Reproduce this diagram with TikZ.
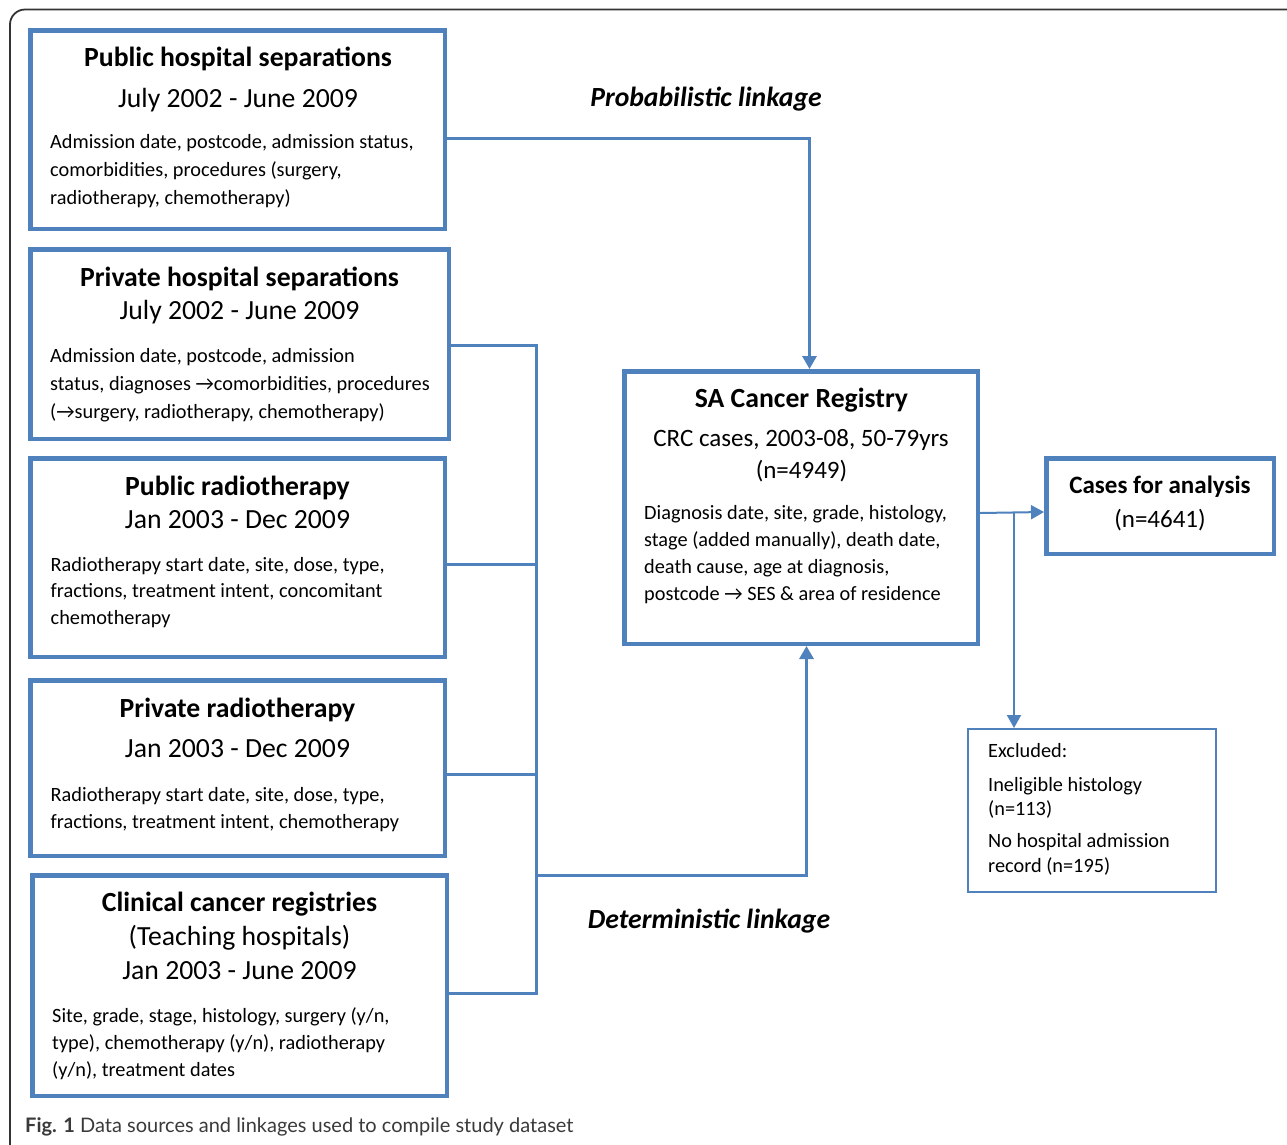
\documentclass[tikz,border=0pt]{standalone}
\usepackage{fontspec}
\setmainfont{Carlito}
\newfontfamily\capfont{Lato}
\usetikzlibrary{arrows.meta}
\definecolor{cblue}{HTML}{4F81BD}
\definecolor{capgray}{HTML}{3A3A3A}
\begin{document}
\begin{tikzpicture}[x=1pt,y=-1pt,
  srcbox/.style={draw=cblue, line width=4.5pt, inner sep=0pt, outer sep=2.25pt, rectangle},
  exbox/.style={draw=cblue, line width=2.2pt, inner sep=0pt, outer sep=1.1pt, rectangle},
  ttl/.style={font=\fontsize{27.7}{30}\selectfont\bfseries, anchor=base, inner sep=0pt},
  sub/.style={font=\fontsize{27.7}{30}\selectfont, anchor=base, inner sep=0pt},
  subm/.style={font=\fontsize{25}{30}\selectfont, anchor=base, inner sep=0pt},
  ttlm/.style={font=\fontsize{25}{30}\selectfont\bfseries, anchor=base, inner sep=0pt},
  bodytxt/.style={anchor=north west, align=left, inner sep=0pt},
  lnk/.style={draw=cblue, line width=3pt},
  thinlnk/.style={draw=cblue, line width=2pt},
  tip/.style={-{Triangle[length=13pt,width=14pt]}},
  lbl/.style={font=\fontsize{27.7}{30}\selectfont\bfseries\itshape, anchor=base, inner sep=0pt}
]
\useasboundingbox (0,0) rectangle (1287,1144);
\fill[white] (0,0) rectangle (1287,1144);
% outer frame (continues beyond the page on the right and bottom)
\draw[black!80, line width=1.8pt, rounded corners=15pt] (10,9.5) rectangle (1320,1180);

% ---------- boxes ----------
\node[srcbox, minimum width=414.5pt, minimum height=198.5pt] (b1) at (237.5,129.5) {};
\node[srcbox, minimum width=418.5pt, minimum height=189.5pt] (b2) at (239.5,344) {};
\node[srcbox, minimum width=414.5pt, minimum height=198.5pt] (b3) at (237.5,557.5) {};
\node[srcbox, minimum width=414.5pt, minimum height=175.5pt] (b4) at (237.5,768) {};
\node[srcbox, minimum width=414.5pt, minimum height=220.5pt] (b5) at (239.5,985.5) {};
\node[srcbox, minimum width=353.5pt, minimum height=272.5pt] (sa) at (801,507.5) {};
\node[srcbox, minimum width=227.5pt, minimum height=95.5pt] (cases) at (1160,506) {};
\node[exbox, minimum width=247.8pt, minimum height=162.8pt] (exc) at (1092,810.5) {};

% ---------- box texts ----------
\node[ttl] (b1t) at (238,66) {Public hospital separations};
\node[sub] (b1d) at (238,107) {July 2002 - June 2009};
\node[bodytxt, font=\fontsize{20.3}{28}\selectfont] (b1b) at (50,128.4)
  {\strut Admission date, postcode, admission status,\\comorbidities, procedures (surgery,\\radiotherapy, chemotherapy)};

\node[ttl] (b2t) at (239.5,286) {Private hospital separations};
\node[sub] (b2d) at (239.5,319) {July 2002 - June 2009};
\node[bodytxt, font=\fontsize{20.3}{28}\selectfont] (b2b) at (50,342.4)
  {\strut Admission date, postcode, admission\\status, diagnoses \symbol{"2192}comorbidities, procedures\\(\symbol{"2192}surgery, radiotherapy, chemotherapy)};

\node[ttl] (b3t) at (237.5,495) {Public radiotherapy};
\node[sub] (b3d) at (237.5,528.5) {Jan 2003 - Dec 2009};
\node[bodytxt, font=\fontsize{20.3}{26.5}\selectfont] (b3b) at (50.5,552.45)
  {\strut Radiotherapy start date, site, dose, type,\\fractions, treatment intent, concomitant\\chemotherapy};

\node[ttl] (b4t) at (237.5,717) {Private radiotherapy};
\node[sub] (b4d) at (237.5,757.5) {Jan 2003 - Dec 2009};
\node[bodytxt, font=\fontsize{20.3}{27}\selectfont] (b4b) at (50.5,782.1)
  {\strut Radiotherapy start date, site, dose, type,\\fractions, treatment intent, chemotherapy};

\node[ttl] (b5t) at (239.5,911) {Clinical cancer registries};
\node[sub] (b5s) at (239.5,945) {(Teaching hospitals)};
\node[sub] (b5d) at (239.5,979) {Jan 2003 - June 2009};
\node[bodytxt, font=\fontsize{20.3}{27}\selectfont] (b5b) at (52,1003.1)
  {\strut Site, grade, stage, histology, surgery (y/n,\\type), chemotherapy (y/n), radiotherapy\\(y/n), treatment dates};

\node[ttl] (sat) at (801.5,407) {SA Cancer Registry};
\node[subm] (sas) at (801,446) {CRC cases, 2003-08, 50-79yrs};
\node[subm] (san) at (801.5,478) {(n=4949)};
\node[bodytxt, font=\fontsize{20.3}{27}\selectfont] (sab) at (644,500.1)
  {\strut Diagnosis date, site, grade, histology,\\stage (added manually), death date,\\death cause, age at diagnosis,\\postcode \symbol{"2192} SES \& area of residence};

\node[ttlm] (cat) at (1160,493) {Cases for analysis};
\node[subm] (can) at (1160,527) {(n=4641)};

\node[bodytxt, font=\fontsize{20.3}{24.5}\selectfont] (exb) at (988,739.85)
  {\strut Excluded:\\[9.5pt]Ineligible histology\\(n=113)\\[7.5pt]No hospital admission\\record (n=195)};

% ---------- labels ----------
\node[lbl] (plink) at (706,106) {Probabilistic linkage};
\node[lbl] (dlink) at (709,928) {Deterministic linkage};

% ---------- connectors ----------
\coordinate (bustop) at (536,345);
\coordinate (busbot) at (536,993);
\coordinate (busdet) at (536,875);
\coordinate (jn) at (1014,513);

\draw[lnk, tip] ([yshift=-8.5pt]b1.east) -| ([xshift=8.5pt]sa.north);
\draw[lnk, line cap=rect] (b2.east |- bustop) -- (bustop) -- (busbot);
\draw[lnk] ([yshift=-6.5pt]b3.east) -- ([yshift=-6.5pt]b3.east -| bustop);
\draw[lnk] ([yshift=-6pt]b4.east) -- ([yshift=-6pt]b4.east -| bustop);
\draw[lnk] ([yshift=-7.5pt]b5.east) -- (busbot);
\draw[lnk, tip] (busdet) -| ([xshift=5.5pt]sa.south);
\draw[thinlnk, tip] ([yshift=-5.5pt]sa.east) -- ([yshift=-6pt]cases.west);
\draw[thinlnk, tip] (jn) -- (jn |- exc.north);

% ---------- caption ----------
\node[anchor=base west, inner sep=0pt, font=\capfont\fontsize{20}{24}\selectfont, text=capgray] (cap) at (25,1132)
  {\textbf{Fig. 1} Data sources and linkages used to compile study dataset};
\end{tikzpicture}
\end{document}
